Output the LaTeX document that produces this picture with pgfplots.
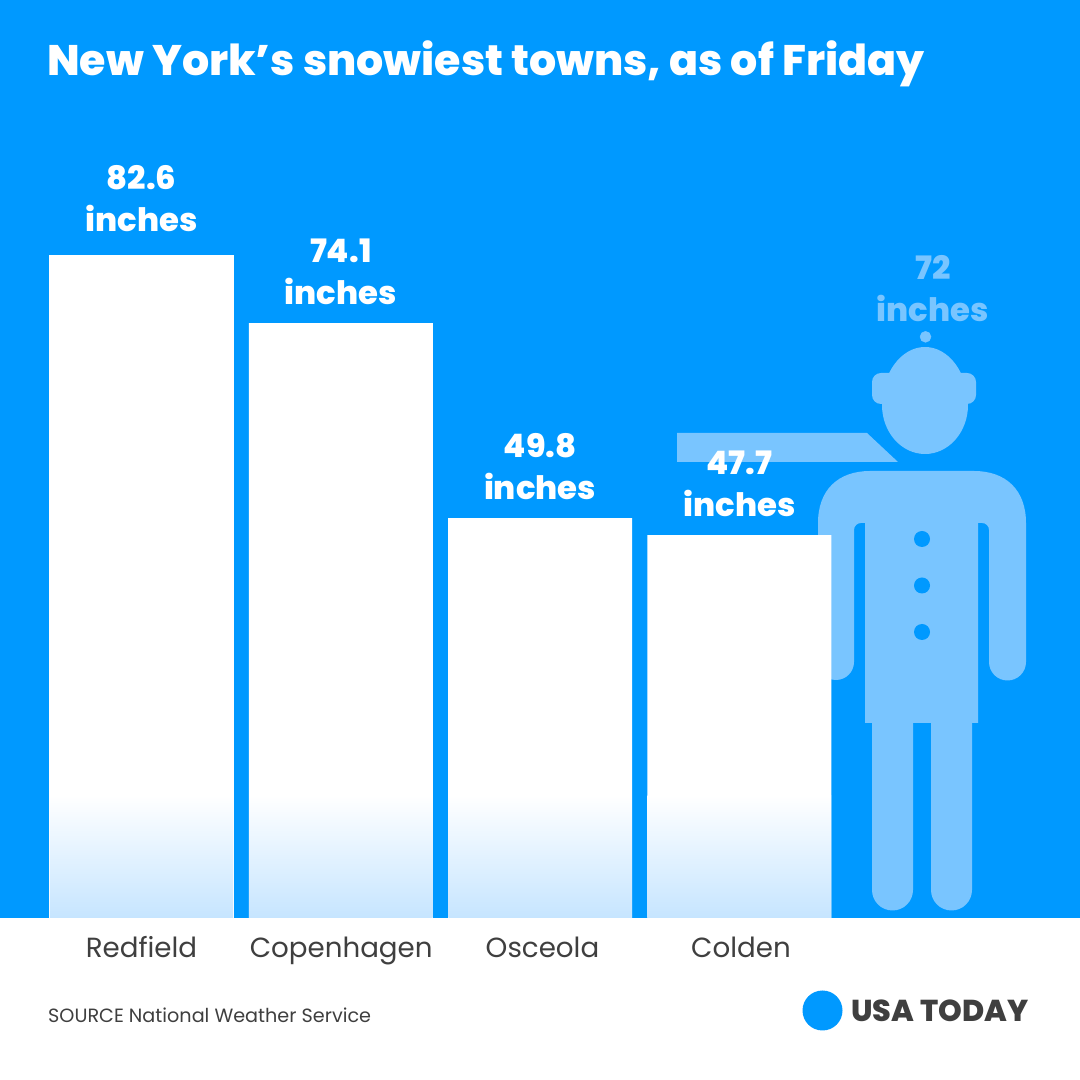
\documentclass[border=0pt]{standalone}
\usepackage{pgfplots}
\pgfplotsset{compat=1.18}
\usepackage{fontspec}
\setmainfont{Poppins}
\newfontfamily\heavy{Poppins ExtraBold}
\definecolor{bg}{HTML}{0099FF}
\definecolor{person}{HTML}{79C5FF}
\definecolor{ink}{HTML}{3F3F3F}
\definecolor{snow}{HTML}{C6E5FF}
\begin{document}
\begin{tikzpicture}[x=1pt,y=1pt]
\useasboundingbox (0,0) rectangle (1080,1080);
\fill[white] (0,0) rectangle (1080,162);
\fill[bg] (0,162) rectangle (1080,1080);
% person silhouette (pixel coordinates, y down)
\begin{scope}[yshift=1080pt,y=-1pt]
\fill[person] (677,433) -- (867,433) -- (898,462) -- (677,462) -- cycle;
% head
\fill[person] (882,405) arc[start angle=180,end angle=360,x radius=43,y radius=58]
  arc[start angle=0,end angle=180,x radius=43,y radius=49] -- cycle;
\fill[person,rounded corners=9pt] (872,373) rectangle (976,404);
% body
\fill[person] (818,662) -- (818,523) .. controls (818,490) and (838,471) .. (870,471)
  -- (974,471) .. controls (1006,471) and (1026,490) .. (1026,523)
  -- (1026,662) arc[start angle=0,end angle=180,x radius=18.5,y radius=18.5]
  -- (989,530) arc[start angle=0,end angle=-90,x radius=7,y radius=7] -- (978,523)
  -- (978,723) -- (972,723) -- (972,890)
  arc[start angle=0,end angle=180,x radius=20.5,y radius=20.5] -- (931,723) -- (913,723) -- (913,890)
  arc[start angle=0,end angle=180,x radius=20.5,y radius=20.5] -- (872,723) -- (865,723)
  -- (865,523) -- (861,523) arc[start angle=270,end angle=180,x radius=7,y radius=7] -- (854,662)
  arc[start angle=0,end angle=180,x radius=18,y radius=18] -- cycle;
\fill[bg] (922,539) circle[radius=8];
\fill[bg] (922,585.5) circle[radius=8];
\fill[bg] (922,632) circle[radius=8];
\end{scope}
\begin{axis}[
  at={(0pt,162pt)}, anchor=south west,
  scale only axis, width=1080pt, height=918pt,
  xmin=-0.71, xmax=4.709, ymin=0, ymax=114.36,
  clip=false,
  axis line style={draw=none},
  tick style={draw=none},
  ytick=\empty,
  xtick={0,1.002,2.012,3.008},
  xticklabels={Redfield,Copenhagen,Osceola,Colden},
  x tick label style={anchor=base,yshift=-39pt,font=\fontsize{27.7}{28}\selectfont,text=ink},
  nodes near coords style={align=center,font=\heavy\fontsize{32.3}{42}\selectfont,text=white},
]
% the six-foot reference: dot above the head and its label
\addplot[only marks,mark=*,mark size=5.5pt,mark options={draw=person,fill=person}] coordinates {(3.934,72.4)};
\addplot[only marks,mark=none,
  nodes near coords={\pgfmathprintnumber[assume math mode=true,fixed,precision=0]{\pgfplotspointmeta}\\inches},
  nodes near coords style={text=person,yshift=15pt},
  point meta=y] coordinates {(3.971,72)};
% bars
\addplot[ybar,bar shift=0pt,bar width=184pt,fill=white,draw=none,
  point meta=y,
  nodes near coords={\pgfmathprintnumber[assume math mode=true,fixed,fixed zerofill,precision=1]{\pgfplotspointmeta}\\inches},
  nodes near coords style={yshift=20pt}]
  coordinates {(0,82.6)};
\addplot[ybar,bar shift=0pt,bar width=184pt,fill=white,draw=none,
  point meta=y,
  nodes near coords={\pgfmathprintnumber[assume math mode=true,fixed,fixed zerofill,precision=1]{\pgfplotspointmeta}\\inches},
  nodes near coords style={yshift=15pt}]
  coordinates {(1,74.1) (2,49.8) (3,47.7)};
\shade[top color=white,bottom color=snow] (axis cs:-0.4603,0) rectangle (axis cs:0.4603,15.3);
\shade[top color=white,bottom color=snow] (axis cs:0.5397,0) rectangle (axis cs:1.4603,15.3);
\shade[top color=white,bottom color=snow] (axis cs:1.5397,0) rectangle (axis cs:2.4603,15.3);
\shade[top color=white,bottom color=snow] (axis cs:2.5397,0) rectangle (axis cs:3.4603,15.3);
\end{axis}
\node[anchor=base west,inner sep=0pt,text=white,font=\heavy\fontsize{42.7}{43}\selectfont] at (47,1004) {New York’s snowiest towns, as of Friday};
\node[anchor=base west,inner sep=0pt,text=ink,font=\fontsize{19.2}{19.2}\selectfont] at (48,57) {SOURCE National Weather Service};
\fill[bg] (822.5,69.5) circle[radius=20];
\node[anchor=base west,inner sep=0pt,text=ink,font=\heavy\fontsize{30.2}{30}\selectfont] at (851,58) {USA TODAY};
\end{tikzpicture}
\end{document}
